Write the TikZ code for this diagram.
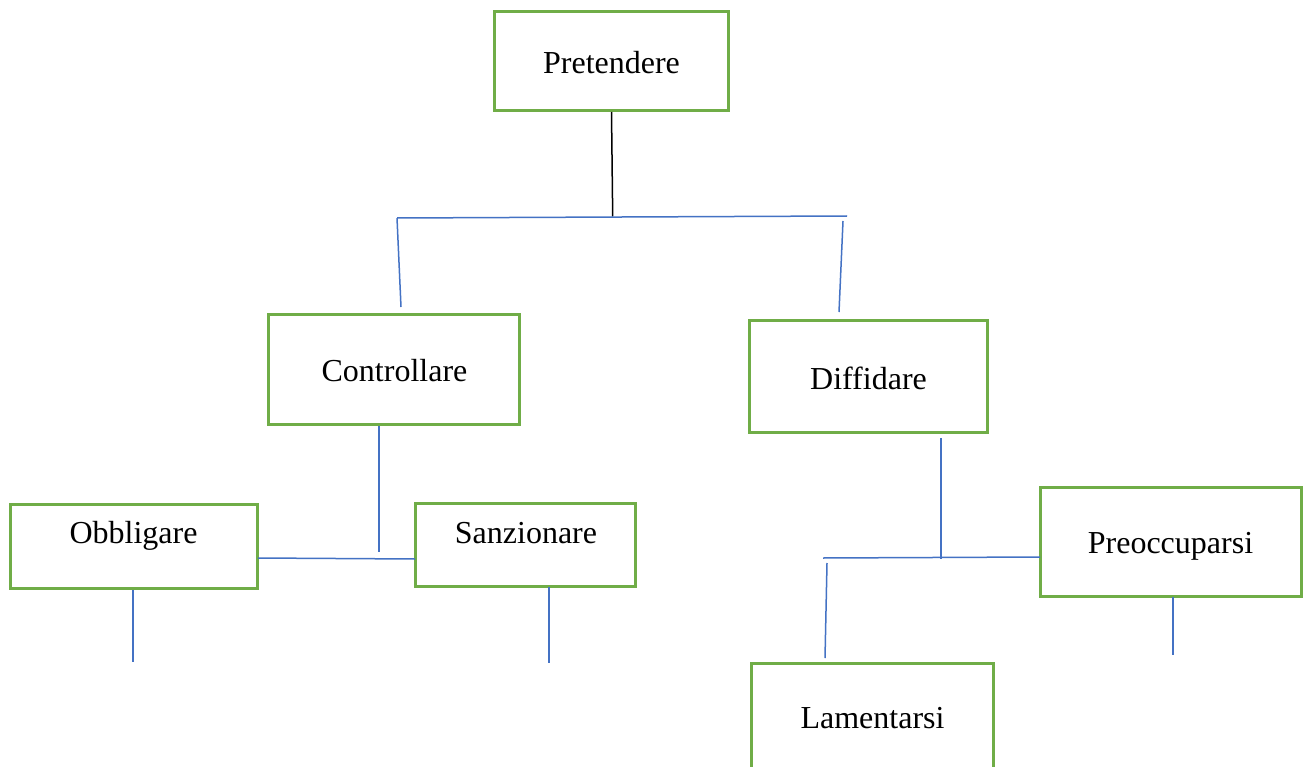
\documentclass[tikz,border=0pt]{standalone}
\usepackage{fontspec}
\setmainfont{Liberation Serif}
\definecolor{boxgreen}{HTML}{70AD47}
\definecolor{linkblue}{HTML}{4472C4}
\begin{document}
\begin{tikzpicture}[x=1pt,y=-1pt,
  box/.style={draw=boxgreen,line width=3pt,rectangle,inner sep=0pt,outer sep=0pt,fill=white},
  lbl/.style={inner sep=0pt,anchor=base,font=\fontsize{32}{38}\selectfont},
  link/.style={draw=linkblue,line width=1.5pt},
  stem/.style={draw=black,line width=1.5pt}]
\useasboundingbox (0,0) rectangle (1305,767);
\clip (0,0) rectangle (1305,767);
\fill[white] (0,0) rectangle (1305,767);
% boxes
\node[box,minimum width=234pt,minimum height=99pt] (pre) at (611,61.5) {};
\node[box,minimum width=251pt,minimum height=110pt] (con) at (393.5,369) {};
\node[box,minimum width=238pt,minimum height=112pt] (dif) at (868,376) {};
\node[box,minimum width=247pt,minimum height=84pt] (obb) at (133.5,546) {};
\node[box,minimum width=220pt,minimum height=83pt] (san) at (525,544.5) {};
\node[box,minimum width=261pt,minimum height=109pt] (pro) at (1170.5,541.5) {};
\node[box,minimum width=242pt,minimum height=130pt] (lam) at (872,728) {};
% labels
\node[lbl] (tpre) at (611.5,74) {Pretendere};
\node[lbl] (tcon) at (394.5,381) {Controllare};
\node[lbl] (tdif) at (868.5,389) {Diffidare};
\node[lbl] (tobb) at (133.5,543) {Obbligare};
\node[lbl] (tsan) at (526,543) {Sanzionare};
\node[lbl] (tpro) at (1170.5,553) {Preoccuparsi};
\node[lbl] (tlam) at (872.5,728) {Lamentarsi};
% coordinates
\coordinate (a1) at (611.5,112);
\coordinate (a2) at (612.7,216.5);
\coordinate (h1l) at (397,218);
\coordinate (h1r) at (847,216);
\coordinate (v1b) at (401,307);
\coordinate (v2t) at (843,221);
\coordinate (v2b) at (839,312);
\coordinate (c1) at (379,426);
\coordinate (c2) at (379,552);
\coordinate (h2l) at (258,558);
\coordinate (h2r) at (415,559);
\coordinate (s1) at (549,587);
\coordinate (s2) at (549,663);
\coordinate (o1) at (133,590);
\coordinate (o2) at (133,662);
\coordinate (d1) at (941,438);
\coordinate (d2) at (941,559);
\coordinate (h3l) at (823,558);
\coordinate (h3r) at (1040,557);
\coordinate (l1) at (827,563);
\coordinate (l2) at (825,658);
\coordinate (p1) at (1173,597);
\coordinate (p2) at (1173,655);
% connectors
\draw[stem] (a1) -- (a2);
\draw[link] (h1l) -- (h1r);
\draw[link] (h1l) -- (v1b);
\draw[link] (v2t) -- (v2b);
\draw[link] (c1) -- (c2);
\draw[link] (h2l) -- (h2r);
\draw[link] (s1) -- (s2);
\draw[link] (o1) -- (o2);
\draw[link] (d1) -- (d2);
\draw[link] (h3l) -- (h3r);
\draw[link] (l1) -- (l2);
\draw[link] (p1) -- (p2);
\end{tikzpicture}
\end{document}
